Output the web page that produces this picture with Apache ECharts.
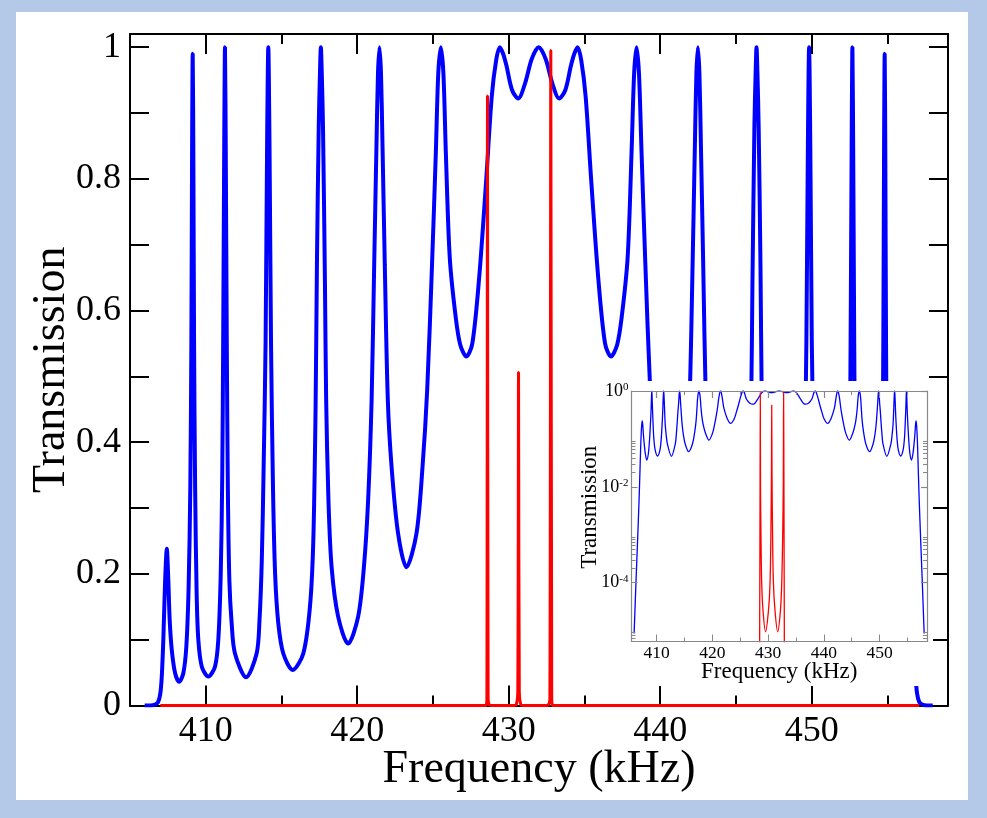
<!DOCTYPE html>
<html>
<head>
<meta charset="UTF-8">
<title>Transmission</title>
<script type="text/javascript" src="https://cdn.jsdelivr.net/npm/echarts@6/dist/echarts.min.js"></script>
<style type="text/css">
	body{ margin:0; background-color:#b4c8e7; }
	#panel{ position:absolute; left:16px; top:12px; width:952px; height:788px; background-color:#fff; }
	#main{ position:absolute; left:0; top:0; width:987px; height:818px; }
</style>
</head>
<body>
	<div id="panel"></div>
	<div id="main"></div>
<script type="text/javascript">
	// 蓝色曲线：频率 (kHz)
	var blueFreq = [
		405.97, 406.30, 406.60, 406.85, 407.00, 407.10, 407.20, 407.32, 407.43, 407.53,
		407.62, 407.76, 407.98, 408.24, 408.52, 408.72, 408.87, 408.98, 409.05, 409.10,
		409.14, 409.18, 409.23, 409.30, 409.40, 409.51, 409.74, 410.17, 410.61, 410.83,
		410.99, 411.09, 411.15, 411.22, 411.27, 411.32, 411.39, 411.46, 411.56, 411.71,
		411.93, 412.66, 413.36, 413.55, 413.70, 413.82, 413.95, 414.05, 414.13, 414.21,
		414.31, 414.44, 414.58, 414.79, 415.12, 415.74, 416.44, 416.88, 417.10, 417.25,
		417.34, 417.46, 417.54, 417.60, 417.66, 417.74, 417.87, 417.95, 418.10, 418.31, 418.74, 419.40,
		420.06, 420.44, 420.72, 420.95, 421.12, 421.27, 421.37, 421.47, 421.57, 421.67, 421.82, 422.02,
		422.27, 422.70, 423.25, 423.91, 424.31, 424.62, 424.94, 425.19, 425.35, 425.52, 425.69, 425.85,
		426.11, 426.50, 426.80, 427.21, 427.60, 428.05, 428.52, 428.88, 429.17, 429.41, 429.63, 429.85,
		430.22, 430.63, 431.08, 431.52, 431.98,
		432.44, 432.88, 433.33, 433.74, 434.11, 434.33, 434.55, 434.79, 435.08, 435.44, 435.91, 436.36,
		436.75, 437.16, 437.46, 437.85, 438.11, 438.28, 438.44, 438.60, 438.77, 439.02, 439.34, 439.65,
		440.05, 440.71, 441.26, 441.69, 441.94, 442.14, 442.29, 442.39, 442.49, 442.59, 442.69, 442.84,
		443.01, 443.24, 443.52, 443.90, 444.56, 445.22, 445.65, 445.86, 446.01, 446.09,
		446.22, 446.30, 446.36, 446.42, 446.50, 446.62, 446.71, 446.86, 447.08, 447.52, 448.22, 448.84,
		449.17, 449.38, 449.52, 449.65, 449.75, 449.83, 449.91, 450.01, 450.14, 450.26,
		450.41, 450.60, 451.30, 452.03, 452.25, 452.40, 452.50, 452.57, 452.64, 452.69,
		452.74, 452.81, 452.87, 452.97, 453.13, 453.35, 453.79, 454.22, 454.45, 454.56,
		454.66, 454.73, 454.78, 454.82, 454.86, 454.91, 454.98, 455.09, 455.24, 455.44,
		455.72, 455.98, 456.20, 456.34, 456.43, 456.53, 456.64, 456.76, 456.86, 456.96,
		457.11, 457.36, 457.66, 457.99
	];
	// 蓝色曲线：透射率
	var blueT = [
		0.0000087, 0.0001, 0.0008, 0.005, 0.018, 0.045, 0.10, 0.19, 0.238, 0.19,
		0.13, 0.084, 0.049, 0.036, 0.049, 0.09, 0.18, 0.33, 0.55, 0.85,
		0.99, 0.85, 0.55, 0.33, 0.17, 0.10, 0.059, 0.044, 0.059, 0.10,
		0.20, 0.35, 0.55, 0.85, 1.0, 0.85, 0.55, 0.33, 0.19, 0.125,
		0.079, 0.043, 0.079, 0.13, 0.22, 0.36, 0.55, 0.85, 1.0, 0.85,
		0.55, 0.33, 0.20, 0.125, 0.079, 0.054, 0.079, 0.15, 0.25, 0.45,
		0.67, 0.88, 0.96, 1.0, 0.96, 0.88, 0.64, 0.464, 0.312, 0.21, 0.135, 0.094,
		0.135, 0.21, 0.312, 0.464, 0.67, 0.85, 0.96, 1.0, 0.96, 0.85, 0.67, 0.464,
		0.362, 0.261, 0.21, 0.261, 0.362, 0.48, 0.671, 0.84, 0.96, 1.0, 0.96, 0.84,
		0.68, 0.59, 0.548, 0.530, 0.55, 0.65, 0.80, 0.925, 0.98, 1.0, 0.99, 0.972,
		0.935, 0.922, 0.945, 0.982, 1.0,
		0.982, 0.945, 0.922, 0.935, 0.972, 0.99, 1.0, 0.98, 0.925, 0.80, 0.65, 0.55,
		0.530, 0.548, 0.59, 0.68, 0.84, 0.96, 1.0, 0.96, 0.84, 0.671, 0.48, 0.362,
		0.261, 0.21, 0.261, 0.362, 0.464, 0.67, 0.85, 0.96, 1.0, 0.96, 0.85, 0.67,
		0.464, 0.312, 0.21, 0.135, 0.094, 0.135, 0.21, 0.312, 0.464, 0.64,
		0.88, 0.96, 1.0, 0.96, 0.88, 0.67, 0.45, 0.25, 0.15, 0.079, 0.054, 0.079,
		0.125, 0.20, 0.33, 0.55, 0.85, 1.0, 0.85, 0.55, 0.36, 0.22,
		0.13, 0.079, 0.043, 0.079, 0.125, 0.19, 0.33, 0.55, 0.85, 1.0,
		0.85, 0.55, 0.35, 0.20, 0.10, 0.059, 0.044, 0.059, 0.10, 0.17,
		0.33, 0.55, 0.85, 0.99, 0.85, 0.55, 0.33, 0.18, 0.09, 0.049,
		0.036, 0.049, 0.084, 0.13, 0.19, 0.238, 0.19, 0.10, 0.045, 0.018,
		0.005, 0.0008, 0.0001, 0.0000087
	];
	// 红色曲线
	var redFreq = [407.00, 428.40, 428.50, 428.56, 428.60, 428.64, 428.72, 428.85, 429.10, 429.55,
		430.05, 430.35, 430.50, 430.60, 430.65, 430.70, 430.80, 430.95, 431.25, 431.72,
		432.20, 432.45, 432.62, 432.72, 432.78, 432.84, 432.90, 433.00, 457.10];
	var redT = [1e-7, 1e-7, 3e-5, 0.01, 0.926, 0.01, 1e-3, 1e-4, 2.5e-5, 9.4e-6,
		2.5e-5, 1e-4, 1e-3, 0.02, 0.506, 0.02, 1e-3, 1e-4, 2.5e-5, 9.4e-6,
		2.5e-5, 1e-4, 1e-3, 0.01, 0.995, 0.01, 3e-5, 1e-7, 1e-7];

	// 刻度
	var xMajor = [410, 420, 430, 440, 450];
	var xMinor = [415, 425, 435, 445, 455];
	var yTicks = [0, 0.1, 0.2, 0.3, 0.4, 0.5, 0.6, 0.7, 0.8, 0.9, 1];
	var yLabels = [0, 0.2, 0.4, 0.6, 0.8, 1];
	var logMajor = [1e-4, 1e-2, 1];
	var logMinor = [6e-6, 7e-6, 8e-6, 9e-6,
		2e-4, 3e-4, 4e-4, 5e-4, 6e-4, 7e-4, 8e-4, 9e-4,
		2e-2, 3e-2, 4e-2, 5e-2, 6e-2, 7e-2, 8e-2, 9e-2];

	var serif = "'Liberation Serif', 'Times New Roman', serif";

	function pairs(xs, ys){
		var arr = [];
		for(var i = 0;i<xs.length;i++){
			arr.push([xs[i], ys[i]]);
		}
		return arr;
	}
	var blueData = pairs(blueFreq, blueT);
	var redData = pairs(redFreq, redT);

	// 只画刻度的坐标轴
	function tickAxis(grid, pos, min, max, values, len, color, width, showLine, z, type){
		return {
			gridIndex: grid, type: type || 'value', position: pos, min: min, max: max, z: z,
			axisLine: {show: showLine, onZero: false, lineStyle: {color: color, width: width}},
			axisTick: {show: true, inside: true, length: len, customValues: values, lineStyle: {color: color, width: width}},
			axisLabel: {show: false},
			splitLine: {show: false}
		};
	}

	var myChart = echarts.init(document.getElementById('main'));

	var xMain = {
		gridIndex: 0, type: 'value', position: 'bottom', min: 405, max: 459,
		axisLine: {show: true, onZero: false, lineStyle: {color: '#000', width: 2}},
		axisTick: {show: true, inside: true, length: 20, customValues: xMajor, lineStyle: {color: '#000', width: 2}},
		axisLabel: {show: true, customValues: xMajor, margin: 8, fontSize: 36, fontFamily: serif, color: '#000'},
		splitLine: {show: false},
		name: 'Frequency (kHz)', nameLocation: 'middle', nameGap: 41, nameMoveOverlap: false,
		nameTextStyle: {fontSize: 46, fontFamily: serif, color: '#000'}
	};
	var yMain = {
		gridIndex: 0, type: 'value', position: 'left', min: 0, max: 1.02,
		axisLine: {show: true, onZero: false, lineStyle: {color: '#000', width: 2}},
		axisTick: {show: true, inside: true, length: 19, customValues: yTicks, lineStyle: {color: '#000', width: 2}},
		axisLabel: {show: true, customValues: yLabels, margin: 9, fontSize: 36, fontFamily: serif, color: '#000',
			formatter: function(v){ return String(v); }},
		splitLine: {show: false},
		name: 'Transmission', nameLocation: 'middle', nameGap: 55, nameMoveOverlap: false,
		nameTextStyle: {fontSize: 46, fontFamily: serif, color: '#000'}
	};
	var xInset = {
		gridIndex: 1, type: 'value', position: 'bottom', min: 405.5, max: 458.5, z: 12,
		axisLine: {show: true, onZero: false, lineStyle: {color: '#888', width: 1.2}},
		axisTick: {show: true, inside: true, length: 7, customValues: xMajor, lineStyle: {color: '#888', width: 1}},
		axisLabel: {show: true, customValues: xMajor, margin: 3, fontSize: 17.5, fontFamily: serif, color: '#000'},
		splitLine: {show: false},
		name: 'Frequency (kHz)', nameLocation: 'middle', nameGap: 19, nameMoveOverlap: false,
		nameTextStyle: {fontSize: 23, fontFamily: serif, color: '#000'}
	};
	var yInset = {
		gridIndex: 1, type: 'log', logBase: 10, position: 'left', min: 5.9e-6, max: 1, z: 12,
		axisLine: {show: true, onZero: false, lineStyle: {color: '#888', width: 1.2}},
		axisTick: {show: true, inside: true, length: 6, customValues: logMajor, lineStyle: {color: '#888', width: 1}},
		axisLabel: {show: true, customValues: logMajor, margin: 3,
			formatter: function(v){ return '{b|10}{s|' + Math.round(Math.log10(v)) + '}'; },
			rich: {
				b: {fontSize: 18, fontFamily: serif, color: '#000'},
				s: {fontSize: 11, fontFamily: serif, color: '#000', verticalAlign: 'top'}
			}},
		splitLine: {show: false},
		name: 'Transmission', nameLocation: 'middle', nameGap: 30, nameMoveOverlap: false,
		nameTextStyle: {fontSize: 23, fontFamily: serif, color: '#000', padding: [0, 0, 0, 18]}
	};

	var option = {
		animation: false,
		// 插图的白色底
		graphic: [{
			type: 'rect', z: 9, silent: true,
			shape: {x: 570, y: 381, width: 363, height: 305},
			style: {fill: '#fff'}
		}],
		grid: [
			{left: 130, top: 34, width: 818, height: 671.5, show: false},
			{left: 631.5, top: 391, width: 295.5, height: 250.5, show: true, backgroundColor: '#fff', borderWidth: 0, z: 10}
		],
		xAxis: [
			xMain,
			tickAxis(0, 'bottom', 405, 459, xMinor, 10, '#000', 2, false, 0),
			tickAxis(0, 'top', 405, 459, xMajor, 20, '#000', 2, true, 0),
			tickAxis(0, 'top', 405, 459, xMinor, 10, '#000', 2, false, 0),
			xInset,
			tickAxis(1, 'bottom', 405.5, 458.5, xMinor, 4, '#888', 1, false, 12),
			tickAxis(1, 'top', 405.5, 458.5, xMajor, 7, '#888', 1.2, true, 12),
			tickAxis(1, 'top', 405.5, 458.5, xMinor, 4, '#888', 1, false, 12)
		],
		yAxis: [
			yMain,
			tickAxis(0, 'right', 0, 1.02, yTicks, 19, '#000', 2, true, 0),
			yInset,
			tickAxis(1, 'left', 5.9e-6, 1, logMinor, 4, '#888', 1, false, 12, 'log'),
			tickAxis(1, 'right', 5.9e-6, 1, logMajor, 6, '#888', 1.2, true, 12, 'log'),
			tickAxis(1, 'right', 5.9e-6, 1, logMinor, 4, '#888', 1, false, 12, 'log')
		],
		series: [
			{name: 'T1', type: 'line', xAxisIndex: 0, yAxisIndex: 0, data: blueData, showSymbol: false, smooth: 0.3,
				lineStyle: {color: '#0000ff', width: 4}, z: 2},
			{name: 'T2', type: 'line', xAxisIndex: 0, yAxisIndex: 0, data: redData, showSymbol: false, smooth: 0.3,
				lineStyle: {color: '#ff0000', width: 3}, z: 3},
			{name: 'T1 log', type: 'line', xAxisIndex: 4, yAxisIndex: 2, data: blueData, showSymbol: false, smooth: 0.3,
				lineStyle: {color: '#0000ff', width: 1.3}, z: 11},
			{name: 'T2 log', type: 'line', xAxisIndex: 4, yAxisIndex: 2, data: redData, showSymbol: false, smooth: 0.3,
				lineStyle: {color: '#ff0000', width: 1.3}, z: 11}
		]
	};

	myChart.setOption(option);
</script>
</body>
</html>
